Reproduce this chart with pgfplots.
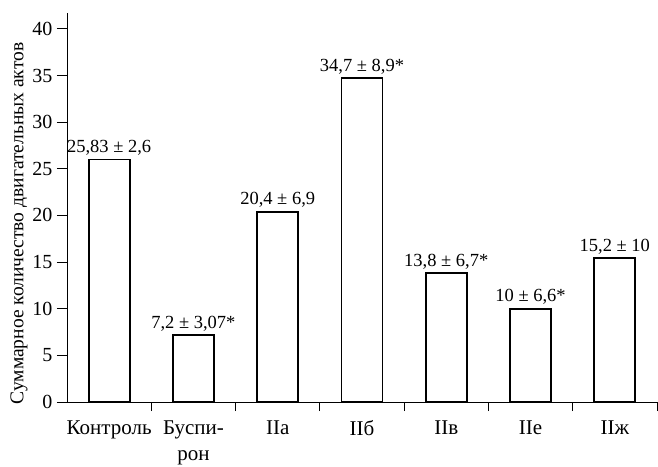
\documentclass[border=0pt]{standalone}
\usepackage{pgfplots}
\pgfplotsset{compat=1.18}
\usepackage{fontspec}
\setmainfont{Liberation Serif}
\begin{document}
\begin{tikzpicture}
\begin{axis}[
  name=ax,
  scale only axis,
  width=590pt, height=389pt,
  xmin=-0.5, xmax=6.5,
  ymin=0, ymax=41.7,
  axis x line*=bottom, axis y line*=left,
  axis line style={black, line width=0.8pt},
  ytick={0,5,...,40},
  xtick={0,...,6},
  xticklabels={Контроль, {Буспи-\\рон}, IIа, IIб, IIв, IIе, IIж},
  minor xtick={0.5,1.5,...,6.5},
  major x tick style={draw=none},
  minor tick length=9pt,
  major tick length=10pt,
  tick style={black, line width=0.8pt},
  tick align=outside,
  xticklabel style={align=center, yshift=-5pt, font=\fontsize{21}{26}\selectfont},
  yticklabel style={font=\fontsize{20}{20}\selectfont, xshift=-1pt},
  /pgf/number format/assume math mode=true,
  ylabel={Суммарное количество двигательных актов},
  ylabel style={font=\fontsize{19.5}{20}\selectfont, yshift=-2pt, xshift=-16pt},
  ybar, bar width=41pt, bar shift=0pt,
  point meta=explicit symbolic,
  nodes near coords,
  nodes near coords style={font=\fontsize{18.5}{19}\selectfont, inner sep=2pt, anchor=south, yshift=1pt},
]
\addplot[draw=black, fill=white, line width=1.8pt] coordinates {
  (0,26.0) [{25,83 ± 2,6}]
  (1,7.2) [{7,2 ± 3,07*}]
  (2,20.4) [{20,4 ± 6,9}]
  (3,34.7) [{34,7 ± 8,9*}]
  (4,13.8) [{13,8 ± 6,7*}]
  (5,10.0) [{10 ± 6,6*}]
  (6,15.4) [{15,2 ± 10}]
};
\end{axis}
\pgfresetboundingbox
\path ([shift={(-67pt,-64pt)}]ax.south west) rectangle ([shift={(1pt,13pt)}]ax.north east);
\end{tikzpicture}
\end{document}
